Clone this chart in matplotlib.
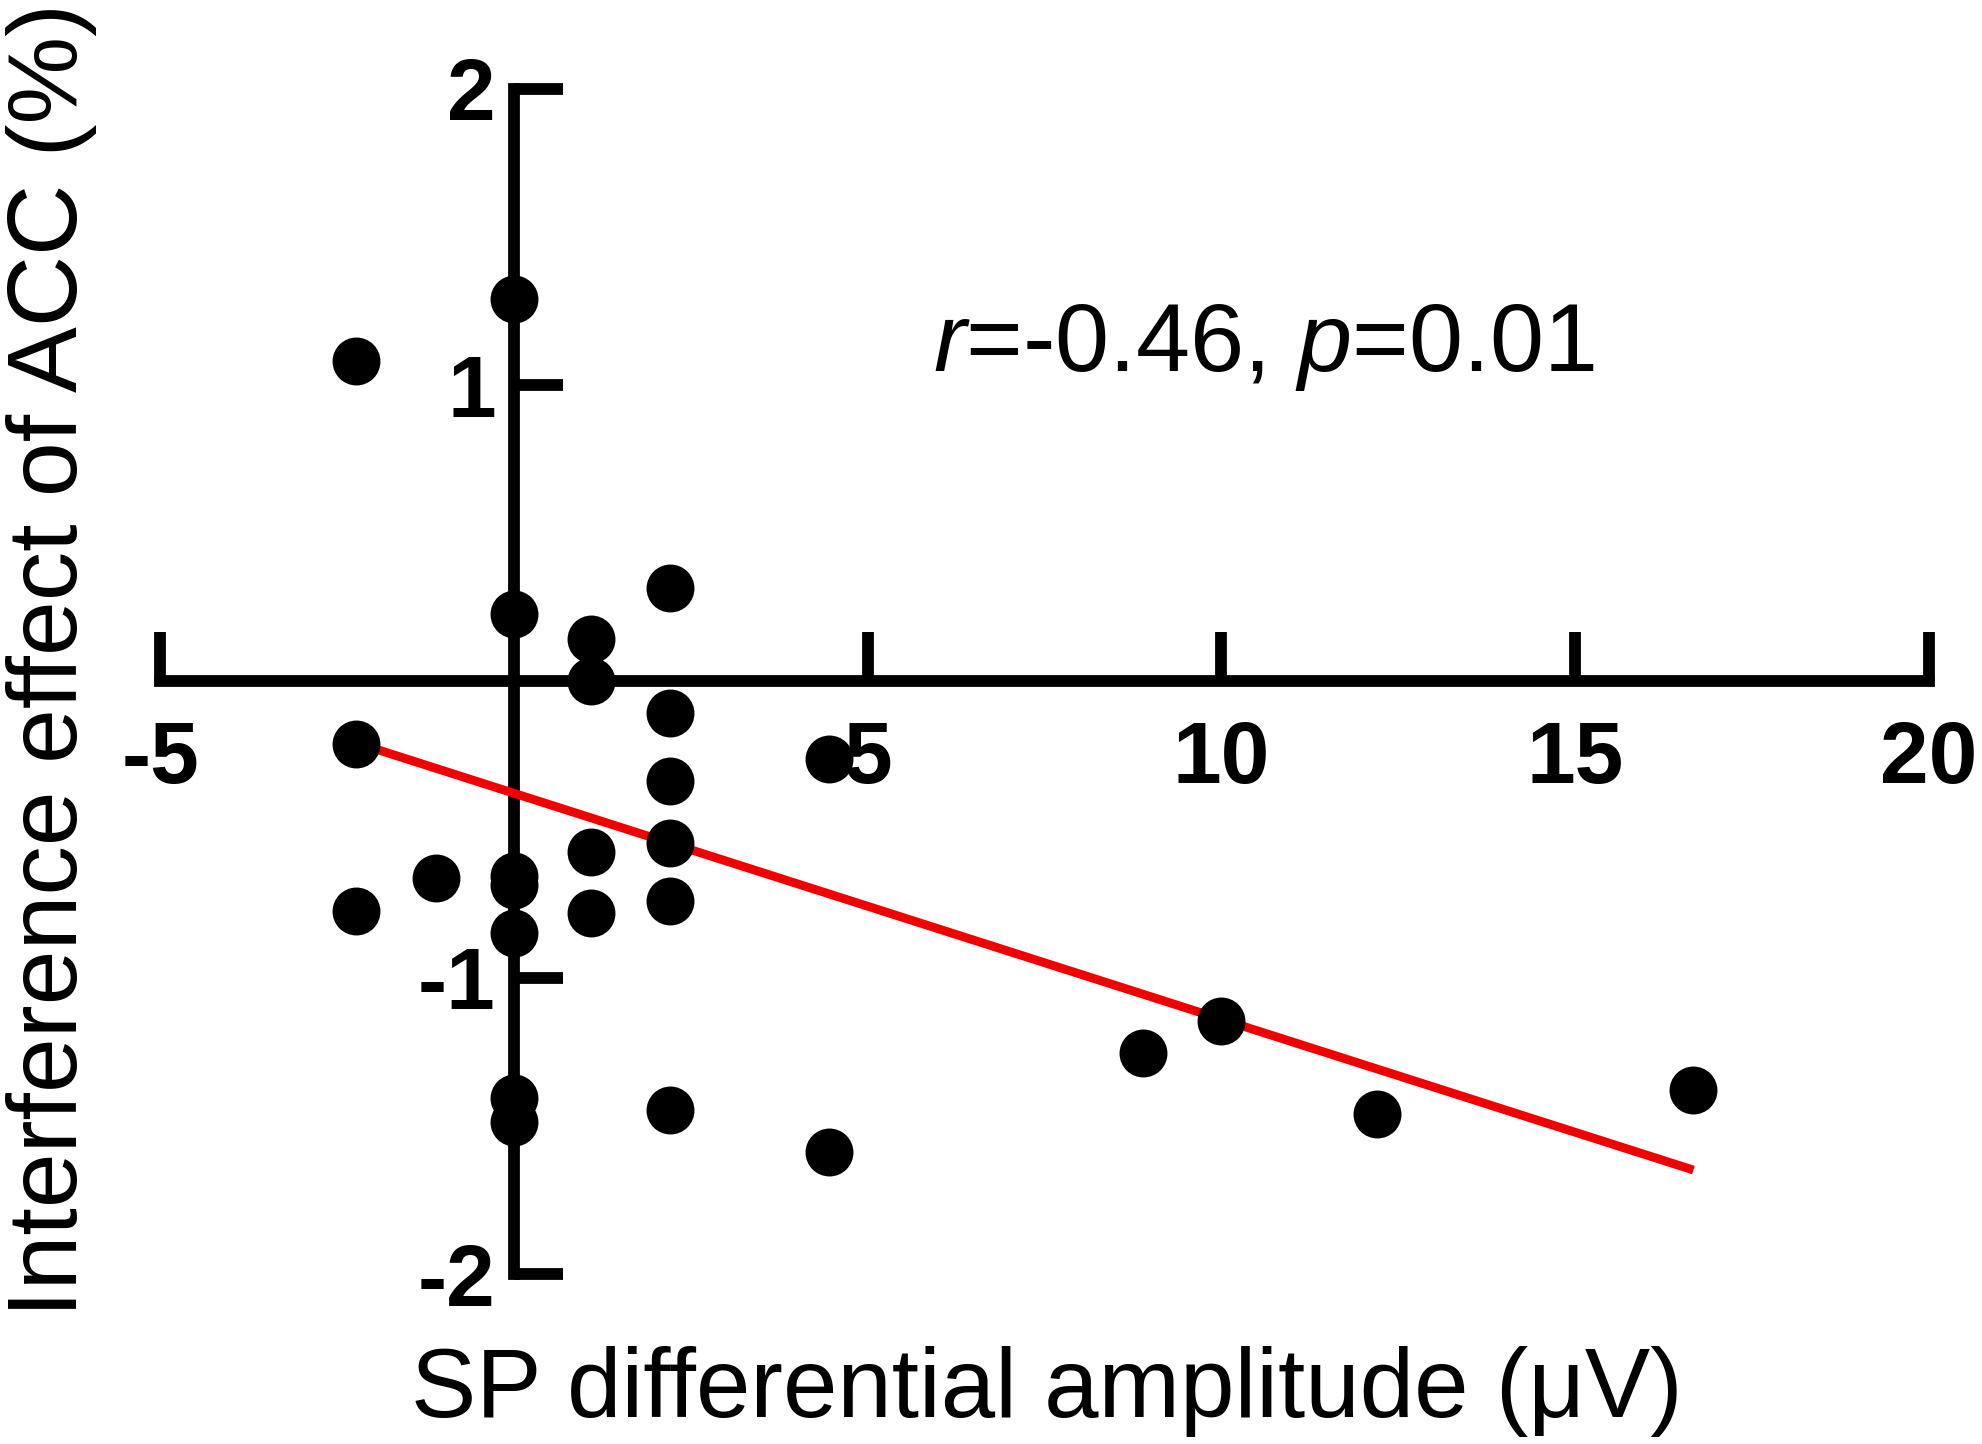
import matplotlib
matplotlib.use('Agg')
import matplotlib.pyplot as plt
import numpy as np

# values
sp_amp = [-2.23, -2.23, -2.23, -1.10,
          0.0, 0.0, 0.0, 0.0, 0.0, 0.0, 0.0,
          1.09, 1.09, 1.09, 1.09,
          2.20, 2.20, 2.20, 2.20, 2.20, 2.20,
          4.45, 4.45, 8.89, 10.0, 12.2, 16.67]
acc_effect = [1.083, -0.211, -0.773, -0.664,
              1.291, 0.228, -0.658, -0.687, -0.850, -1.407, -1.486,
              0.145, 0.0, -0.574, -0.782,
              0.315, -0.105, -0.337, -0.546, -0.740, -1.447,
              -0.262, -1.587, -1.255, -1.147, -1.461, -1.380]
fit_slope = -0.0763
fit_intercept = -0.377

x_ticks = [-5, 5, 10, 15, 20]
y_ticks = [-2, -1, 1, 2]
stat_text = r'$\mathit{r}$=-0.46, $\mathit{p}$=0.01'

plt.rcParams['font.family'] = 'Liberation Sans'
plt.rcParams['mathtext.fontset'] = 'custom'
plt.rcParams['mathtext.rm'] = 'Liberation Sans'
plt.rcParams['mathtext.it'] = 'Liberation Sans:italic'
plt.rcParams['axes.unicode_minus'] = False

fig = plt.figure(figsize=(19.83, 14.44), dpi=100)
ax = fig.add_axes([0.0807, 0.1177, 0.9728 - 0.0807, 0.9384 - 0.1177])
ax.set_xlim(-5, 20)
ax.set_ylim(-2, 2)

ax.spines['top'].set_visible(False)
ax.spines['right'].set_visible(False)
ax.spines['left'].set_position(('data', 0))
ax.spines['bottom'].set_position(('data', 0))
for side in ['left', 'bottom']:
    ax.spines[side].set_linewidth(8.5)
    ax.spines[side].set_capstyle('projecting')

ax.set_xticks(x_ticks)
ax.set_xticklabels([str(t) for t in x_ticks])
ax.set_yticks(y_ticks)
ax.set_yticklabels([str(t) for t in y_ticks])
ax.tick_params(direction='in', length=35, width=8.5, labelsize=63)
ax.tick_params(axis='x', pad=28)
ax.tick_params(axis='y', pad=13)
for lbl in ax.get_xticklabels() + ax.get_yticklabels():
    lbl.set_fontweight('bold')

# regression line
xs = np.array([min(sp_amp), max(sp_amp)])
ax.plot(xs, fit_intercept + fit_slope * xs, color='#f20000', lw=6.3,
        solid_capstyle='butt', zorder=3, clip_on=False)

# points
ax.plot(sp_amp, acc_effect, 'o', color='black', markersize=34.5,
        markeredgewidth=0, zorder=4, clip_on=False)

ax.text(5.93, 1.047, stat_text, fontsize=70, ha='left', va='baseline')

fig.text(0.528, (1444 - 1417) / 1444, 'SP differential amplitude (μV)',
         ha='center', va='baseline', fontsize=70.5)
fig.text(52 / 1983, 0.543, 'Interference effect of ACC (%)', rotation=90,
         ha='center', va='center', fontsize=71)

fig.savefig('out.png', dpi=100)
plt.close()
